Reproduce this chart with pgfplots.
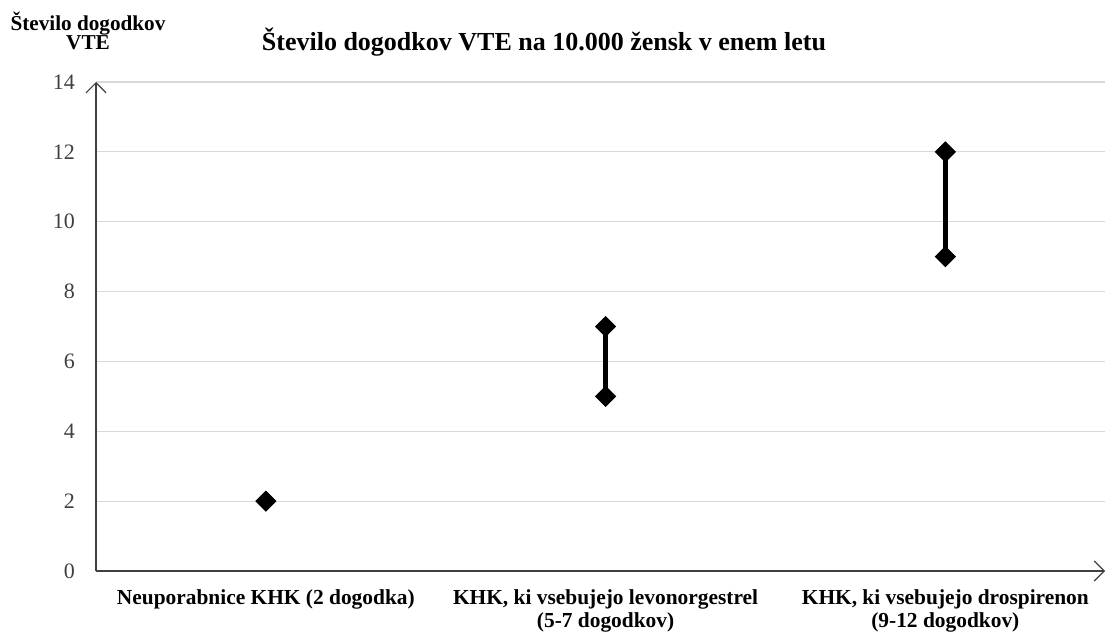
\documentclass[border=0pt]{standalone}
\usepackage{pgfplots}
\pgfplotsset{compat=1.18}
\usepackage{fontspec}
\setmainfont{Liberation Serif}
\usetikzlibrary{arrows.meta}
\definecolor{gridc}{HTML}{D9D9D9}
\definecolor{axc}{HTML}{404040}
\begin{document}
\begin{tikzpicture}
\useasboundingbox (-48pt,-30.5pt) rectangle (505.5pt,285.5pt);
\begin{axis}[
  at={(0,0)}, anchor=south west,
  scale only axis,
  width=504.5pt, height=244.5pt,
  xmin=-0.5, xmax=2.47,
  ymin=0, ymax=14,
  ytick={0,2,...,14},
  xtick={0,1,2},
  xticklabels={Neuporabnice KHK (2 dogodka), {KHK, ki vsebujejo levonorgestrel\\(5-7 dogodkov)}, {KHK, ki vsebujejo drospirenon\\(9-12 dogodkov)}},
  xticklabel style={font=\fontsize{10.7}{11.5}\selectfont\bfseries, align=center, text=black, yshift=-6pt},
  yticklabel style={font=\fontsize{11}{11}\selectfont, text=axc, xshift=-7pt},
  /pgf/number format/assume math mode=true,
  major tick length=0pt,
  axis lines=left,
  axis line style={axc, line width=0.6pt, -{Straight Barb[length=5pt,width=10pt,line width=0.6pt]}},
  ymajorgrids,
  grid style={gridc, line width=0.6pt},
  clip=false,
  xtick style={draw=none},
  ytick style={draw=none},
]
\addplot[black, line width=2.5pt, mark=square*, mark size=3.5pt, mark options={rotate=45, line width=0.5pt, fill=black}] coordinates {(1,5) (1,7)};
\addplot[black, line width=2.5pt, mark=square*, mark size=3.5pt, mark options={rotate=45, line width=0.5pt, fill=black}] coordinates {(2,9) (2,12)};
\addplot[black, only marks, mark=square*, mark size=3.5pt, mark options={rotate=45, line width=0.5pt, fill=black}] coordinates {(0,2)};
\end{axis}
\node[font=\fontsize{13}{14}\selectfont\bfseries] at (224pt,264.5pt) {Število dogodkov VTE na 10.000 žensk v enem letu};
\node[font=\fontsize{10.6}{9.5}\selectfont\bfseries, align=center] at (-4pt,270pt) {Število dogodkov\\VTE};
\end{tikzpicture}
\end{document}
